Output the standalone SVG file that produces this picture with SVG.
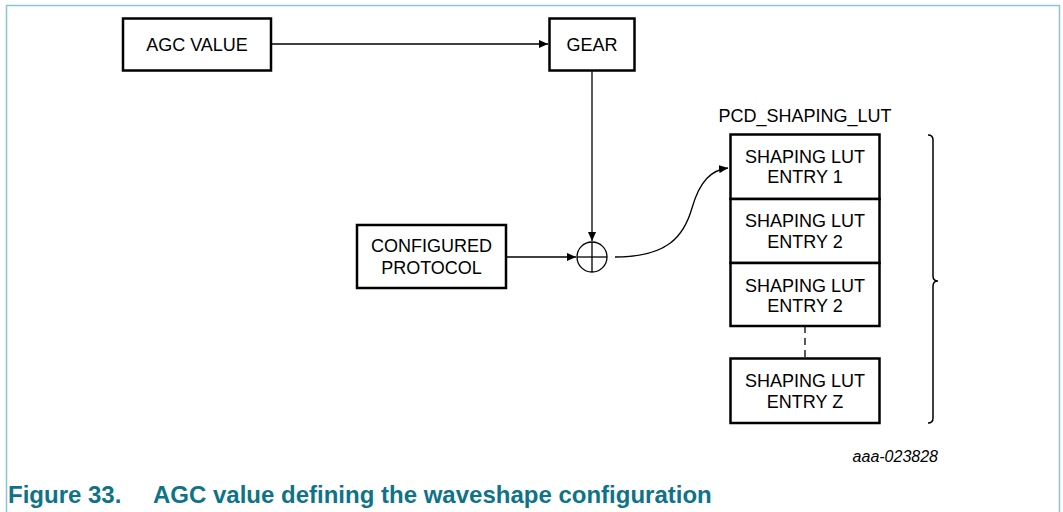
<svg xmlns="http://www.w3.org/2000/svg" width="1063" height="512" viewBox="0 0 1063 512">
<style>
.box{fill:#fff;stroke:#000;stroke-width:2.5}
.t{font-family:"Liberation Sans",Arial,sans-serif;font-size:18px;fill:#000;text-anchor:middle}
.ln{fill:none;stroke:#000;stroke-width:1.3}
.cap{font-family:"Liberation Sans",Arial,sans-serif;font-size:24px;font-weight:bold;fill:#0f7388}
</style>
<defs>
<marker id="ah" viewBox="0 0 10 10" refX="10" refY="5" markerWidth="9" markerHeight="9" markerUnits="userSpaceOnUse" orient="auto">
<path d="M0,0.5 L10,5 L0,9.5 Z" fill="#000"/>
</marker>
</defs>
<rect width="1063" height="512" fill="#fff"/>
<path d="M6.5,512 L6.5,5.5 L1059.5,5.5 L1059.5,512" fill="none" stroke="#8cc4d2" stroke-width="1.5"/>
<g id="connectors">
<line class="ln" x1="272" y1="44" x2="548" y2="44" marker-end="url(#ah)"/>
<line class="ln" x1="592" y1="71" x2="592" y2="241" marker-end="url(#ah)"/>
<line class="ln" x1="507" y1="257" x2="576" y2="257" marker-end="url(#ah)"/>
<path class="ln" d="M615,257 C668,257 684,236 692,208 C700,180 712,170 728,168" marker-end="url(#ah)"/>
<line class="ln" x1="805" y1="326" x2="805" y2="358" stroke-dasharray="7,5"/>
</g>
<g id="agc-value">
<rect class="box" x="123" y="18.5" width="148" height="52"/>
<text class="t" x="197" y="51">AGC VALUE</text>
</g>
<g id="gear">
<rect class="box" x="549.5" y="18.5" width="85" height="52"/>
<text class="t" x="592" y="51">GEAR</text>
</g>
<g id="configured-protocol">
<rect class="box" x="357" y="225" width="149" height="63"/>
<text class="t" x="431.5" y="252">CONFIGURED</text>
<text class="t" x="431.5" y="274">PROTOCOL</text>
</g>
<g id="adder">
<circle cx="592" cy="257" r="15" fill="#fff" stroke="#000" stroke-width="1.3"/>
<line class="ln" x1="577" y1="257" x2="607" y2="257"/>
<line class="ln" x1="592" y1="242" x2="592" y2="272"/>
</g>
<g id="pcd-shaping-lut">
<text class="t" x="805" y="122">PCD_SHAPING_LUT</text>
<rect class="box" x="730.5" y="134.5" width="149" height="64.5"/>
<rect class="box" x="730.5" y="199" width="149" height="64"/>
<rect class="box" x="730.5" y="263" width="149" height="63"/>
<text class="t" x="805" y="163">SHAPING LUT</text>
<text class="t" x="805" y="183">ENTRY 1</text>
<text class="t" x="805" y="227">SHAPING LUT</text>
<text class="t" x="805" y="248">ENTRY 2</text>
<text class="t" x="805" y="292">SHAPING LUT</text>
<text class="t" x="805" y="312">ENTRY 2</text>
</g>
<g id="entry-z">
<rect class="box" x="730.5" y="358.5" width="149" height="64.5"/>
<text class="t" x="805" y="387">SHAPING LUT</text>
<text class="t" x="805" y="408">ENTRY Z</text>
</g>
<path d="M928,135 Q933,135 933,140 L933,276 Q933,281 938,281 Q933,281 933,286 L933,418 Q933,423 928,423" fill="none" stroke="#000" stroke-width="1.5"/>
<text x="938" y="462" font-family="'Liberation Sans',Arial,sans-serif" font-size="16" font-style="italic" text-anchor="end" fill="#000">aaa-023828</text>
<text class="cap" x="8" y="503">Figure 33.</text>
<text class="cap" x="153" y="503">AGC value defining the waveshape configuration</text>
</svg>
